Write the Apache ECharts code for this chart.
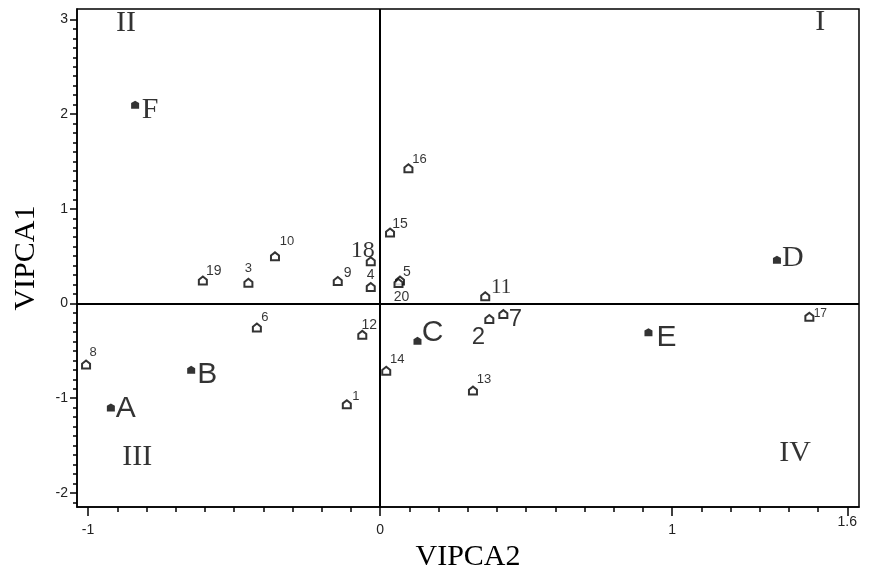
<!DOCTYPE html>
<html lang="en">
<head>
<meta charset="UTF-8">
<title>VIPCA1 / VIPCA2</title>
<script src="https://cdn.jsdelivr.net/npm/echarts@6.0.0/dist/echarts.min.js"></script>
</head>
<body style="margin:0">
<div id="main" style="width:870px;height:577px;"></div>
<script>
// samples A-F (filled markers)
const letterNames = ['A', 'B', 'C', 'D', 'E', 'F'];
const letterX = [-0.922, -0.647, 0.128, 1.359, 0.919, -0.839];
const letterY = [-1.097, -0.700, -0.394, 0.463, -0.303, 2.100];

// variables 1-20 (open markers)
const numNames = ['1', '2', '3', '4', '5', '6', '7', '8', '9', '10',
    '11', '12', '13', '14', '15', '16', '17', '18', '19', '20'];
const numX = [-0.114, 0.374, -0.451, -0.032, 0.068, -0.422, 0.422, -1.007, -0.145, -0.360,
    0.360, -0.061, 0.318, 0.021, 0.034, 0.097, 1.470, -0.032, -0.607, 0.063];
const numY = [-1.063, -0.164, 0.219, 0.175, 0.243, -0.254, -0.112, -0.645, 0.237, 0.498,
    0.076, -0.331, -0.920, -0.711, 0.749, 1.428, -0.139, 0.446, 0.243, 0.216];

// quadrant labels
const quadNames = ['I', 'II', 'III', 'IV'];
const quadX = [1.507, -0.870, -0.832, 1.421];
const quadY = [2.97, 2.96, -1.62, -1.58];

// axis ticks
const xMajor = [-1, 0, 1, 1.6];
const xLabels = [-1, 0, 1];
const yMajor = [-2, -1, 0, 1, 2, 3];

const SANS = 'Liberation Sans';
const SERIF = 'Liberation Serif';

// label placement (offset from marker centre) and font for each point
const labelStyle = {
    A: [15, 1, SANS, 30], B: [16, 5, SANS, 30], C: [15, -8, SANS, 30],
    D: [16, -2, SERIF, 30], E: [18, 6, SANS, 30], F: [15, 5, SERIF, 30],
    '1': [9, -8, SANS, 13], '2': [-11, 18, SANS, 24], '3': [0, -14, SANS, 13],
    '4': [0, -12, SANS, 14], '5': [7, -8, SANS, 14], '6': [8, -10, SANS, 13],
    '7': [12, 5, SANS, 24], '8': [7, -12, SANS, 13], '9': [10, -8, SANS, 14],
    '10': [12, -15, SANS, 13], '11': [16, -9, SERIF, 21], '12': [7, -10, SANS, 14],
    '13': [11, -11, SANS, 13], '14': [11, -11, SANS, 13], '15': [10, -8, SANS, 14],
    '16': [11, -9, SANS, 13], '17': [11, -3, SANS, 12], '18': [-8, -11, SERIF, 24],
    '19': [11, -9, SANS, 14], '20': [3, 14, SANS, 14]
};

function pointLabel(name) {
    const s = labelStyle[name];
    return {
        show: true, position: 'inside', align: 'center', verticalAlign: 'middle',
        offset: [s[0], s[1]], formatter: name, color: '#000',
        fontFamily: s[2], fontSize: s[3], textBorderWidth: 0
    };
}

const minorX = [], minorY = [];
for (let i = -10; i <= 16; i++) if (i % 10 !== 0 && i !== 16) minorX.push(i / 10);
for (let i = -21; i <= 30; i++) if (i % 10 !== 0) minorY.push(i / 10);

const xMin = -1.038, xMax = 1.64, yMin = -2.15, yMax = 3.11;
const chart = echarts.init(document.getElementById('main'));

const openSymbol = 'path://M0,4 L5,0 L10,4 L10,10 L0,10 Z';
const fillSymbol = 'path://M0,3 L5,0 L10,3 L10,10 L0,10 Z';

chart.setOption({
    animation: false,
    backgroundColor: '#fff',
    grid: {
        left: 77, right: 11, top: 9, bottom: 65,
        show: true, borderColor: '#000', borderWidth: 1.5, backgroundColor: 'transparent'
    },
    xAxis: [{
        type: 'value', min: xMin, max: xMax, position: 'bottom',
        name: 'VIPCA2', nameLocation: 'middle', nameGap: 31,
        nameTextStyle: { fontFamily: SERIF, fontSize: 30, color: '#000' },
        axisLine: { show: true, onZero: false, lineStyle: { color: '#000', width: 1.5 } },
        axisTick: { show: true, customValues: xMajor, length: 9, lineStyle: { color: '#000', width: 1.5 } },
        axisLabel: { customValues: xLabels, margin: 16, fontFamily: SANS, fontSize: 14, color: '#222' },
        splitLine: { show: false }
    }, {
        type: 'value', min: xMin, max: xMax, position: 'bottom',
        axisLine: { show: false, onZero: false },
        axisTick: { show: true, customValues: minorX, length: 5, lineStyle: { color: '#000', width: 1.5 } },
        axisLabel: { customValues: [1.6], formatter: () => '1.6', margin: 8, fontFamily: SANS, fontSize: 14, color: '#222' },
        splitLine: { show: false }
    }],
    yAxis: [{
        type: 'value', min: yMin, max: yMax, position: 'left',
        name: 'VIPCA1', nameLocation: 'middle', nameGap: 36, nameRotate: 90,
        nameTextStyle: { fontFamily: SERIF, fontSize: 30, color: '#000' },
        axisLine: { show: true, onZero: false, lineStyle: { color: '#000', width: 1.5 } },
        axisTick: { show: true, customValues: yMajor, length: 7, lineStyle: { color: '#000', width: 1.5 } },
        axisLabel: { customValues: yMajor, margin: 9, fontFamily: SANS, fontSize: 14, color: '#222' },
        splitLine: { show: false }
    }, {
        type: 'value', min: yMin, max: yMax, position: 'left',
        axisLine: { show: false, onZero: false },
        axisTick: { show: true, customValues: minorY, length: 4, lineStyle: { color: '#000', width: 1.5 } },
        axisLabel: { show: false },
        splitLine: { show: false }
    }],
    series: [{
        type: 'scatter', xAxisIndex: 0, yAxisIndex: 0,
        symbol: openSymbol, symbolSize: 8,
        itemStyle: { color: '#fff', borderColor: '#000', borderWidth: 2 },
        data: numNames.map((n, i) => ({ value: [numX[i], numY[i]], label: pointLabel(n) })),
        markLine: {
            silent: true, symbol: 'none', label: { show: false },
            lineStyle: { color: '#000', width: 2, type: 'solid' },
            data: [{ xAxis: 0 }, { yAxis: 0 }]
        },
        z: 3
    }, {
        type: 'scatter', xAxisIndex: 0, yAxisIndex: 0,
        symbol: fillSymbol, symbolSize: 8,
        itemStyle: { color: '#000' },
        data: letterNames.map((n, i) => ({ value: [letterX[i], letterY[i]], label: pointLabel(n) })),
        z: 4
    }, {
        type: 'scatter', xAxisIndex: 0, yAxisIndex: 0,
        symbolSize: 0, silent: true,
        data: quadNames.map((n, i) => ({
            value: [quadX[i], quadY[i]],
            label: {
                show: true, position: 'inside', formatter: n, color: '#000',
                fontFamily: SERIF, fontSize: 30, textBorderWidth: 0
            }
        }))
    }]
});
</script>
</body>
</html>
